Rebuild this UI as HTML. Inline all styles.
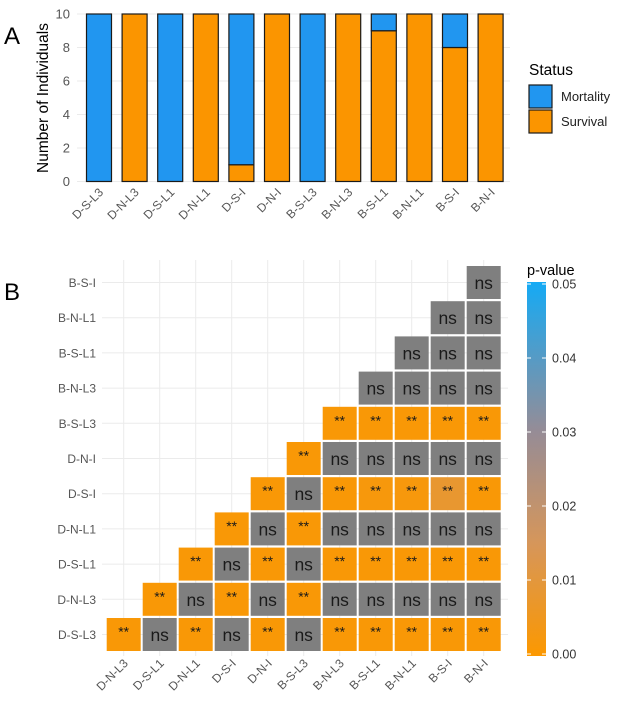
<!DOCTYPE html>
<html><head><meta charset="utf-8"><style>
body{margin:0;background:#fff;}
svg{display:block;font-family:"Liberation Sans",sans-serif;}
</style></head><body>
<svg id="fig" width="618" height="703" viewBox="0 0 618 703" xmlns="http://www.w3.org/2000/svg"></svg>
<script>
const barCategories=["D-S-L3","D-N-L3","D-S-L1","D-N-L1","D-S-I","D-N-I","B-S-L3","B-N-L3","B-S-L1","B-N-L1","B-S-I","B-N-I"];
const survival=[0,10,0,10,1,10,0,10,9,10,8,10];
const mortality=[10,0,10,0,9,0,10,0,1,0,2,0];
const yTicks=[0,2,4,6,8,10];
const rowLabels=["D-S-L3","D-N-L3","D-S-L1","D-N-L1","D-S-I","D-N-I","B-S-L3","B-N-L3","B-S-L1","B-N-L1","B-S-I"];
const colLabels=["D-N-L3","D-S-L1","D-N-L1","D-S-I","D-N-I","B-S-L3","B-N-L3","B-S-L1","B-N-L1","B-S-I","B-N-I"];
// p-values per row (bottom-up), columns r..10; values >0.05 shown grey ("ns")
const pRows=[
[0.001,1,0.001,1,0.001,1,0.001,0.001,0.001,0.001,0.001],
[0.001,1,0.001,1,0.001,1,1,1,1,1],
[0.001,1,0.001,1,0.001,0.001,0.001,0.001,0.001],
[0.001,1,0.001,1,1,1,1,1],
[0.001,1,0.001,0.002,0.002,0.008,0.001],
[0.001,1,1,1,1,1],
[0.001,0.001,0.001,0.001,0.001],
[1,1,1,1],
[1,1,1],
[1,1],
[1]];
const cbTicks=[0,0.01,0.02,0.03,0.04,0.05];

const svg=document.getElementById('fig');
const NS='http://www.w3.org/2000/svg';
function mk(tag,attrs,parent){const e=document.createElementNS(NS,tag);for(const k in attrs)e.setAttribute(k,attrs[k]);(parent||svg).appendChild(e);return e;}
function txt(s,attrs,parent){const e=mk('text',attrs,parent);e.textContent=s;return e;}

// ---- Panel A ----
const yA=v=>181.5-v*16.75;
const xA=i=>99+i*35.6;
const gA=mk('g',{});


let t=txt('A',{x:4,y:44,'font-size':24,fill:'#000'},gA);

yTicks.forEach(v=>{
 const l=mk('line',{x1:77,x2:510,y1:yA(v),y2:yA(v),stroke:'#ebebeb','stroke-width':1},gA);
 
 const tt=txt(String(v),{x:70,y:yA(v)+4.5,'font-size':13,fill:'#555','text-anchor':'end'},gA);
 
});
t=txt('Number of Individuals',{transform:'translate(48,98) rotate(-90)','font-size':15.5,fill:'#000','text-anchor':'middle'},gA);

barCategories.forEach((c,i)=>{
 const x=xA(i)-12.5;
 if(survival[i]>0){const r=mk('rect',{x:x,y:yA(survival[i]),width:25,height:yA(0)-yA(survival[i]),fill:'#fb9500',stroke:'#1a1a1a','stroke-width':1.2},gA);
  }
 if(mortality[i]>0){const r=mk('rect',{x:x,y:yA(survival[i]+mortality[i]),width:25,height:yA(survival[i])-yA(survival[i]+mortality[i]),fill:'#2196f0',stroke:'#1a1a1a','stroke-width':1.2},gA);
  }
 const lb=txt(c,{transform:`translate(${xA(i)+5},${193}) rotate(-45)`,'font-size':12,fill:'#555','text-anchor':'end'},gA);
 
});
// legend
const lg=mk('g',{});

t=txt('Status',{x:529,y:75,'font-size':15.5,fill:'#000'},lg);

[['Mortality','#2196f0',85],['Survival','#fb9500',110]].forEach(([n,c,y])=>{
 const r=mk('rect',{x:529,y:y,width:23,height:23,fill:c,stroke:'#1a1a1a','stroke-width':1.2},lg);
 
 const l=txt(n,{x:561,y:y+16,'font-size':13,fill:'#222'},lg);
 
});

// ---- Panel B ----
const cx=c=>123.7+c*36;
const ry=r=>634.5-r*35.2;
function pColor(p){
 const stops=[[0,[252,152,0]],[0.015,[214,150,90]],[0.03,[150,140,150]],[0.05,[20,170,245]]];
 for(let i=1;i<stops.length;i++){if(p<=stops[i][0]){const a=stops[i-1],b=stops[i];const f=(p-a[0])/(b[0]-a[0]);
  const c=a[1].map((v,k)=>Math.round(v+(b[1][k]-v)*f));return `rgb(${c})`;}}
 return '#7f7f7f';
}
const gB=mk('g',{});

t=txt('B',{x:4,y:300,'font-size':24,fill:'#000'},gB);

colLabels.forEach((c,i)=>{
 const l=mk('line',{x1:cx(i),x2:cx(i),y1:260,y2:656,stroke:'#ebebeb','stroke-width':1},gB);
 
 const lb=txt(c,{transform:`translate(${cx(i)+5},${664}) rotate(-45)`,'font-size':12,fill:'#555','text-anchor':'end'},gB);
 
});
rowLabels.forEach((r,i)=>{
 const l=mk('line',{x1:102,x2:508,y1:ry(i),y2:ry(i),stroke:'#ebebeb','stroke-width':1},gB);
 
 const lb=txt(r,{x:96,y:ry(i)+4.5,'font-size':12,fill:'#555','text-anchor':'end'},gB);
 
});
pRows.forEach((row,r)=>{
 row.forEach((p,k)=>{
  const c=r+k;
  const rc=mk('rect',{x:cx(c)-17,y:ry(r)-16.5,width:34,height:33,fill:pColor(p)},gB);
  
  
  const sig=p<=0.05;
  const tl=txt(sig?'**':'ns',{x:cx(c),y:sig?ry(r)+2:ry(r)+6.5,'font-size':sig?14:17.5,fill:'#1a1a1a','text-anchor':'middle'},gB);
  
  
 });
});
// colorbar
const cb=mk('g',{});

const defs=mk('defs',{});
const gr=mk('linearGradient',{id:'cbg',x1:0,y1:1,x2:0,y2:0},defs);
for(let i=0;i<=10;i++){mk('stop',{offset:i/10,'stop-color':pColor(0.05*i/10)},gr);}
const cy=v=>654-v/0.05*370;
t=txt('p-value',{x:527,y:275,'font-size':14.5,fill:'#000'},cb);

const bar=mk('rect',{x:527,y:cy(0.05)-2,width:19,height:374,fill:'url(#cbg)'},cb);

cbTicks.forEach(v=>{
 mk('line',{x1:527,x2:531,y1:cy(v),y2:cy(v),stroke:'#fff','stroke-width':1},cb);
 mk('line',{x1:542,x2:546,y1:cy(v),y2:cy(v),stroke:'#fff','stroke-width':1},cb);
 const l=txt(v.toFixed(2),{x:552,y:cy(v)+4.5,'font-size':12.5,fill:'#333'},cb);
 
});
</script>
</body></html>
